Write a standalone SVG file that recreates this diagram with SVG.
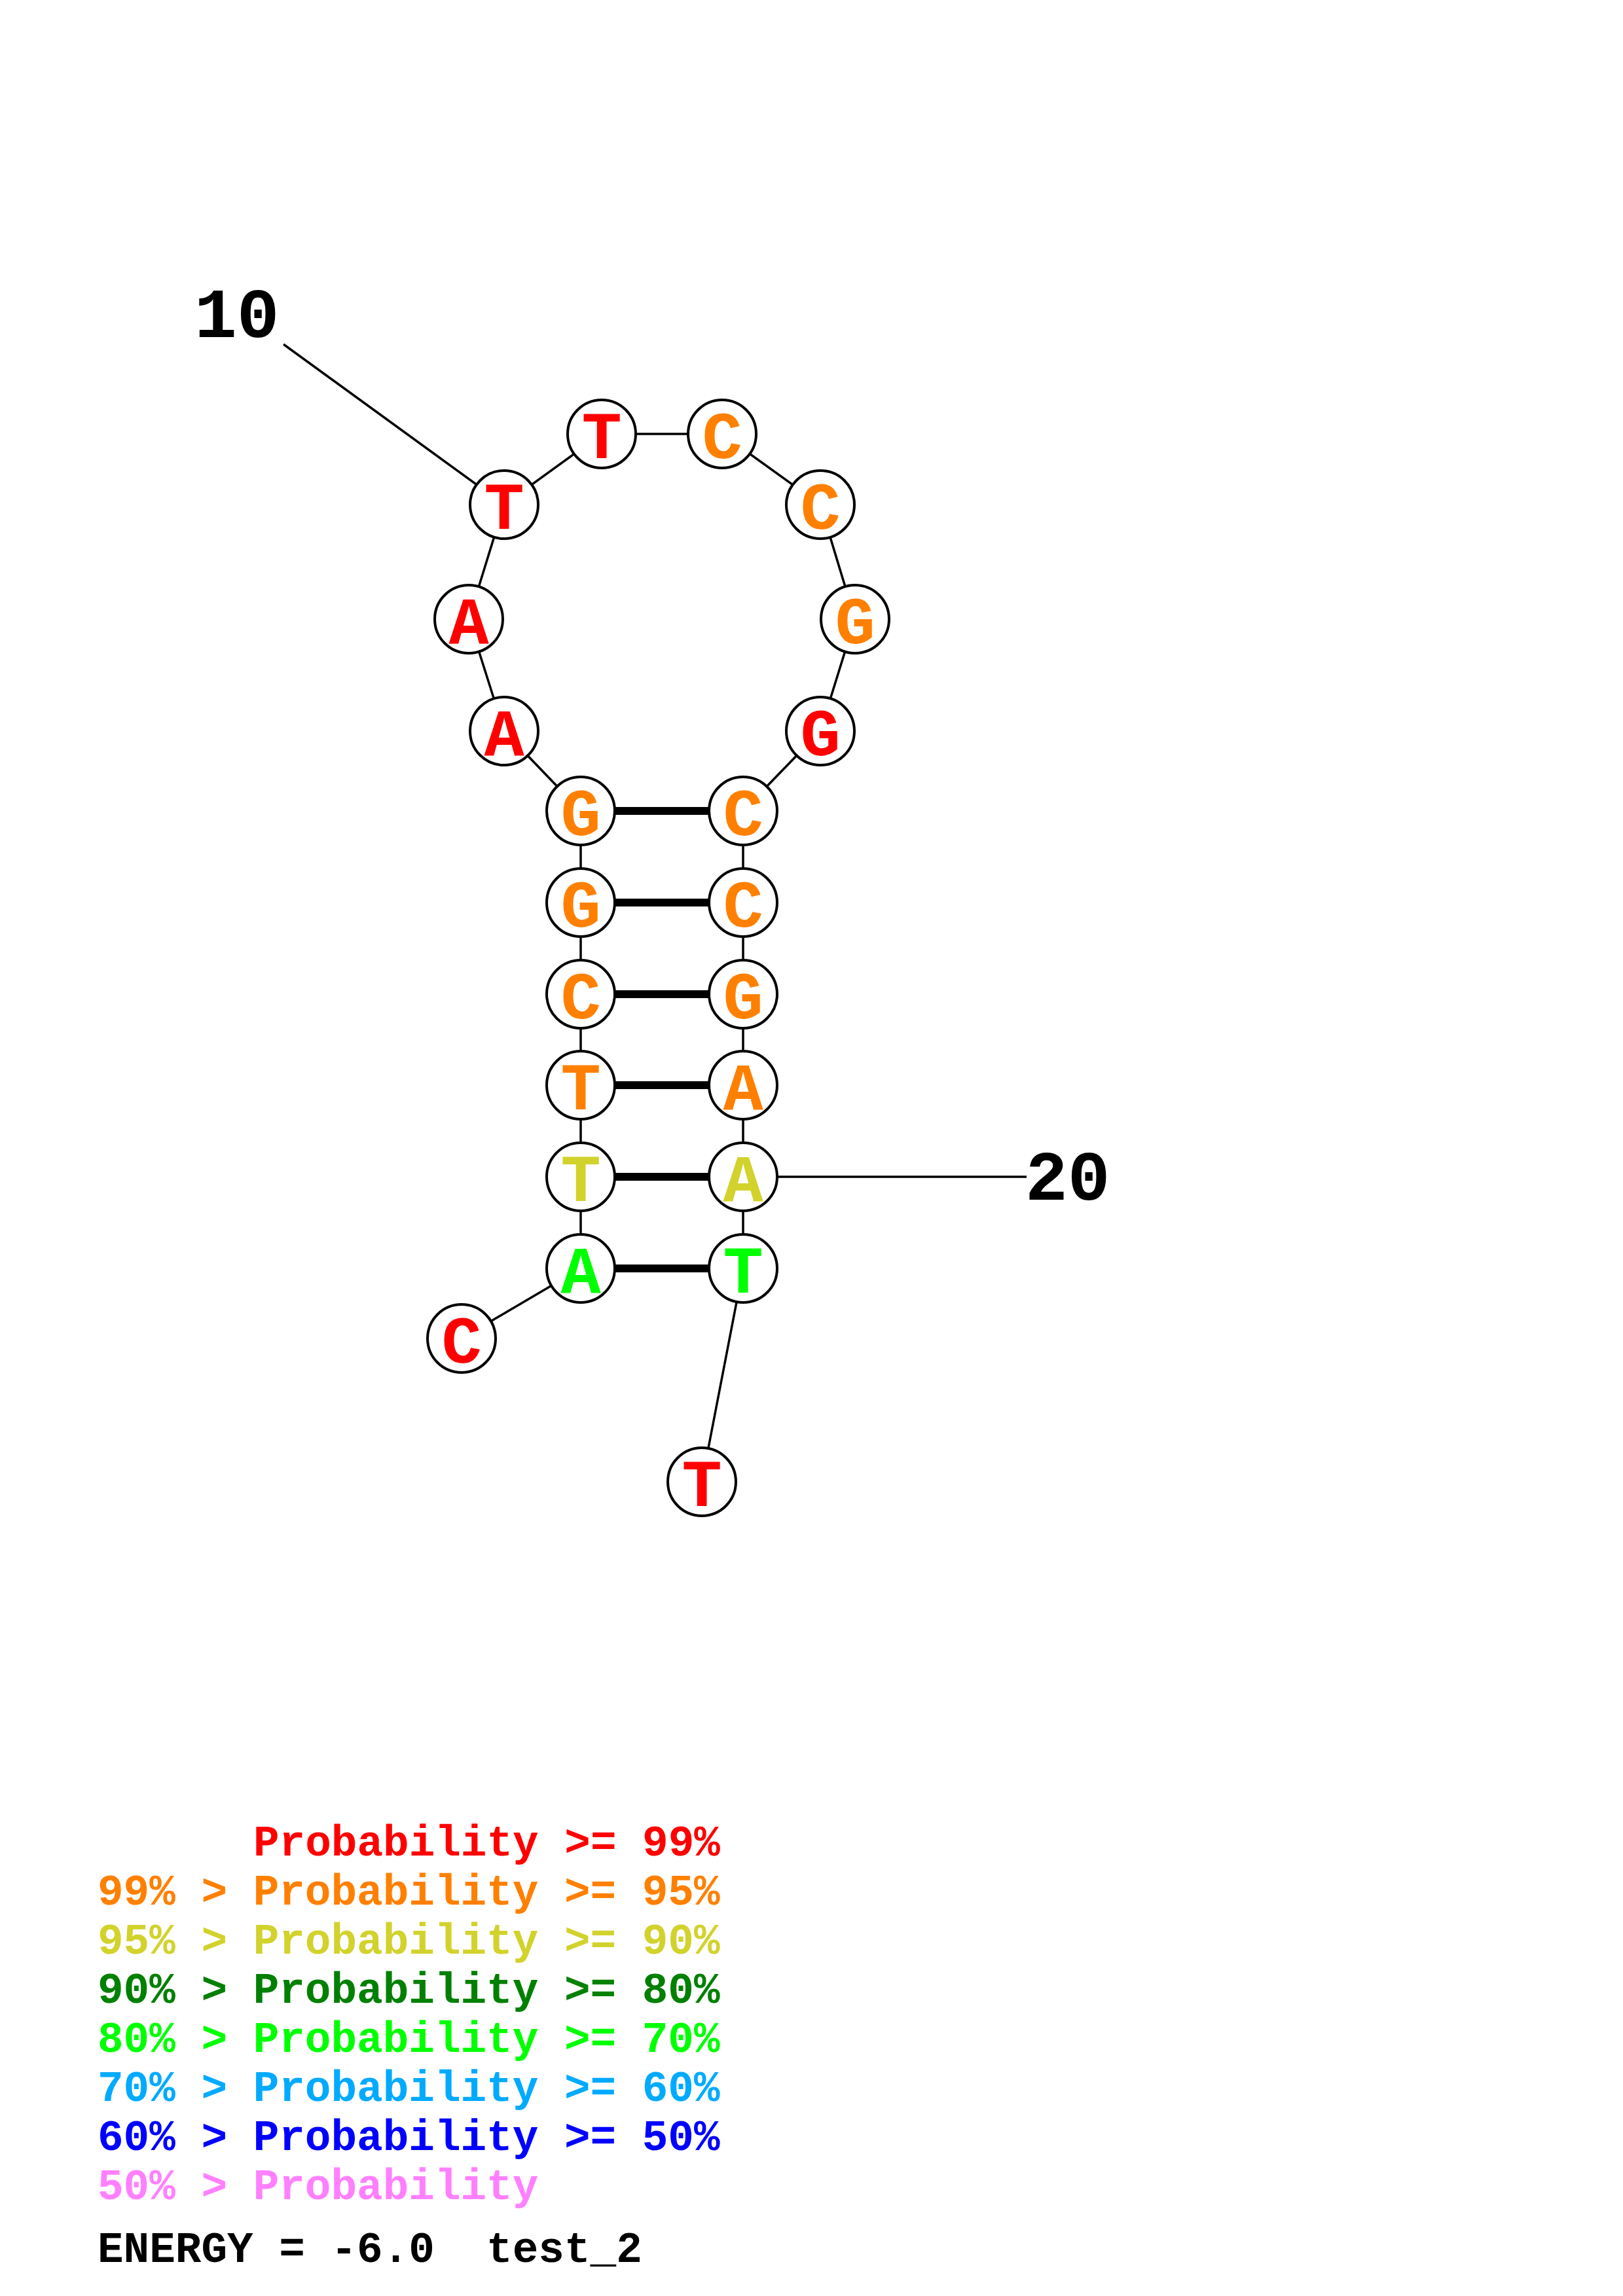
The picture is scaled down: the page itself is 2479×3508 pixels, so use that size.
<svg xmlns="http://www.w3.org/2000/svg" width="2479" height="3508" viewBox="0 0 2479 3508">
<style>
.bb{stroke:#000;stroke-width:3.5;fill:none}
.pr{stroke:#000;stroke-width:12;fill:none}
.nc{fill:#fff;stroke:#000;stroke-width:4}
.nt{font-family:"Liberation Mono","Courier New",monospace;font-weight:bold;font-size:102px;text-anchor:middle}
.num{font-family:"Liberation Mono","Courier New",monospace;font-weight:bold;font-size:108px;fill:#000}
.lg{font-family:"Liberation Mono","Courier New",monospace;font-weight:bold;font-size:66px}
.r{fill:#FF0000}.o{fill:#FF8000}.y{fill:#D2D22D}.dg{fill:#008000}.g{fill:#00FF00}.lb{fill:#00AAFF}.b{fill:#0000FF}.p{fill:#FF80FF}.k{fill:#000}
</style>
<rect width="2479" height="3508" fill="#fff"/>
<g id="connectors">
<polyline class="bb" points="705,2045 887,1938 887,1798 887,1658 887,1519 887,1379 887,1239 770,1117 716,946 770,771 919,663 1103,663 1253,771 1306,946 1253,1117 1135,1239 1135,1379 1135,1519 1135,1658 1135,1798 1135,1938 1072,2264"/>
<line class="pr" x1="887" y1="1239" x2="1135" y2="1239"/>
<line class="pr" x1="887" y1="1379" x2="1135" y2="1379"/>
<line class="pr" x1="887" y1="1519" x2="1135" y2="1519"/>
<line class="pr" x1="887" y1="1658" x2="1135" y2="1658"/>
<line class="pr" x1="887" y1="1798" x2="1135" y2="1798"/>
<line class="pr" x1="887" y1="1938" x2="1135" y2="1938"/>
<line class="bb" x1="433" y1="526" x2="770" y2="771"/>
<line class="bb" x1="1135" y1="1798" x2="1568" y2="1798"/>
</g>
<g id="n1"><circle class="nc" cx="705" cy="2045" r="52"/><text class="nt r" x="705" y="2082">C</text></g>
<g id="n2"><circle class="nc" cx="887" cy="1938" r="52"/><text class="nt g" x="887" y="1975">A</text></g>
<g id="n3"><circle class="nc" cx="887" cy="1798" r="52"/><text class="nt y" x="887" y="1835">T</text></g>
<g id="n4"><circle class="nc" cx="887" cy="1658" r="52"/><text class="nt o" x="887" y="1695">T</text></g>
<g id="n5"><circle class="nc" cx="887" cy="1519" r="52"/><text class="nt o" x="887" y="1556">C</text></g>
<g id="n6"><circle class="nc" cx="887" cy="1379" r="52"/><text class="nt o" x="887" y="1416">G</text></g>
<g id="n7"><circle class="nc" cx="887" cy="1239" r="52"/><text class="nt o" x="887" y="1276">G</text></g>
<g id="n8"><circle class="nc" cx="770" cy="1117" r="52"/><text class="nt r" x="770" y="1154">A</text></g>
<g id="n9"><circle class="nc" cx="716" cy="946" r="52"/><text class="nt r" x="716" y="983">A</text></g>
<g id="n10"><circle class="nc" cx="770" cy="771" r="52"/><text class="nt r" x="770" y="808">T</text></g>
<g id="n11"><circle class="nc" cx="919" cy="663" r="52"/><text class="nt r" x="919" y="700">T</text></g>
<g id="n12"><circle class="nc" cx="1103" cy="663" r="52"/><text class="nt o" x="1103" y="700">C</text></g>
<g id="n13"><circle class="nc" cx="1253" cy="771" r="52"/><text class="nt o" x="1253" y="808">C</text></g>
<g id="n14"><circle class="nc" cx="1306" cy="946" r="52"/><text class="nt o" x="1306" y="983">G</text></g>
<g id="n15"><circle class="nc" cx="1253" cy="1117" r="52"/><text class="nt r" x="1253" y="1154">G</text></g>
<g id="n16"><circle class="nc" cx="1135" cy="1239" r="52"/><text class="nt o" x="1135" y="1276">C</text></g>
<g id="n17"><circle class="nc" cx="1135" cy="1379" r="52"/><text class="nt o" x="1135" y="1416">C</text></g>
<g id="n18"><circle class="nc" cx="1135" cy="1519" r="52"/><text class="nt o" x="1135" y="1556">G</text></g>
<g id="n19"><circle class="nc" cx="1135" cy="1658" r="52"/><text class="nt o" x="1135" y="1695">A</text></g>
<g id="n20"><circle class="nc" cx="1135" cy="1798" r="52"/><text class="nt y" x="1135" y="1835">A</text></g>
<g id="n21"><circle class="nc" cx="1135" cy="1938" r="52"/><text class="nt g" x="1135" y="1975">T</text></g>
<g id="n22"><circle class="nc" cx="1072" cy="2264" r="52"/><text class="nt r" x="1072" y="2301">T</text></g>
<g id="labels">
<text class="num" x="297" y="515">10</text>
<text class="num" x="1566" y="1833">20</text>
</g>
<g id="legend">
<text class="lg r" x="387" y="2835">Probability &gt;= 99%</text>
<text class="lg o" x="149" y="2910">99% &gt; Probability &gt;= 95%</text>
<text class="lg y" x="149" y="2985">95% &gt; Probability &gt;= 90%</text>
<text class="lg dg" x="149" y="3060">90% &gt; Probability &gt;= 80%</text>
<text class="lg g" x="149" y="3135">80% &gt; Probability &gt;= 70%</text>
<text class="lg lb" x="149" y="3210">70% &gt; Probability &gt;= 60%</text>
<text class="lg b" x="149" y="3285">60% &gt; Probability &gt;= 50%</text>
<text class="lg p" x="149" y="3360">50% &gt; Probability</text>
<text class="lg k" x="149" y="3456" xml:space="preserve">ENERGY = -6.0  test_2</text>
</g>
</svg>
